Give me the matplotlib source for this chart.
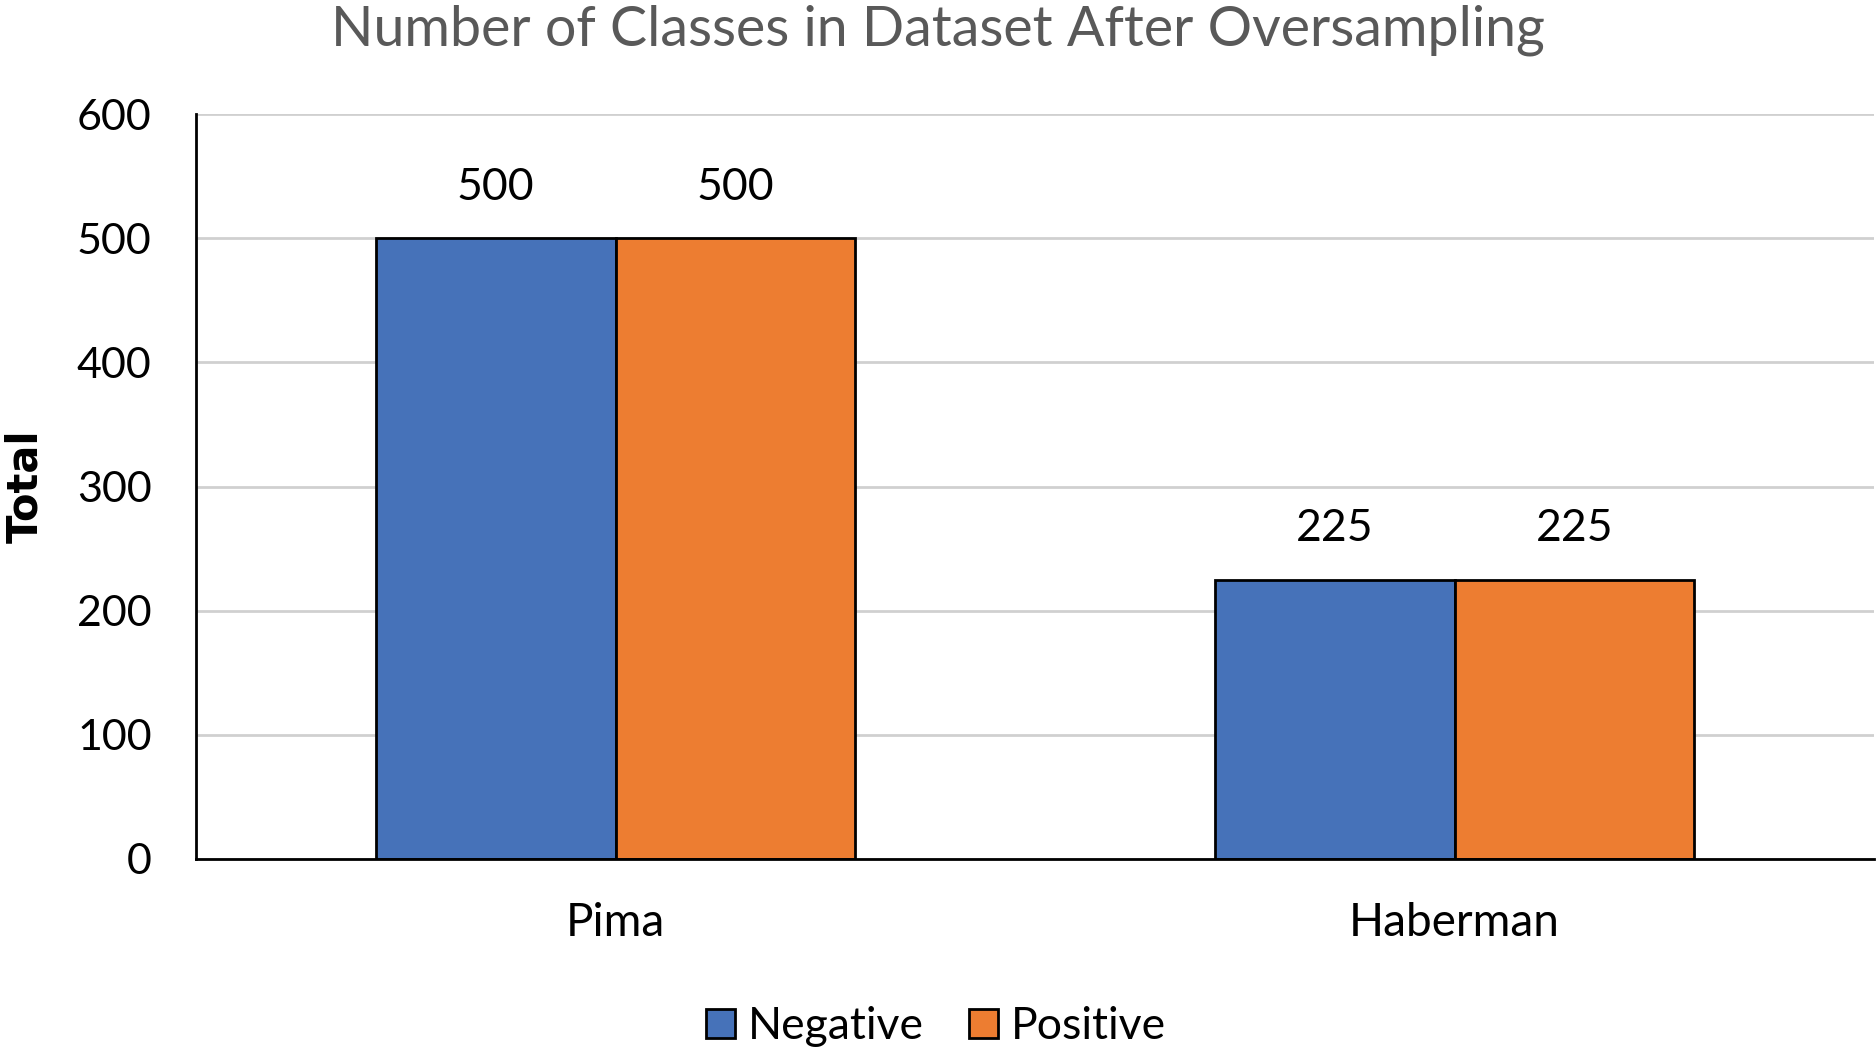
import numpy as np
import matplotlib
matplotlib.use('Agg')
import matplotlib.pyplot as plt

datasets = ['Pima', 'Haberman']
negative = [500, 225]
positive = [500, 225]
series_names = ['Negative', 'Positive']
colors = ['#4672B9', '#ED7D31']
yticks = [0, 100, 200, 300, 400, 500, 600]

plt.rcParams['font.family'] = ['Lato', 'DejaVu Sans']

fig = plt.figure(figsize=(18.76, 10.51), dpi=100)
ax = fig.add_axes([0.1045, 0.1827, 0.8945, 0.7088])

x = np.arange(len(datasets))
w = 2 / 7
for i, (vals, name, c) in enumerate([(negative, series_names[0], colors[0]),
                                     (positive, series_names[1], colors[1])]):
    pos = x + (i - 0.5) * w
    ax.bar(pos, vals, width=w, color=c, edgecolor='black', linewidth=2,
           label=name, zorder=3)
    for p, v in zip(pos, vals):
        ax.annotate(str(v), (p, v), xytext=(0, 22), textcoords='offset points',
                    ha='center', va='bottom', fontsize=32, color='black')

ax.set_xlim(-0.5, 1.5)
ax.set_ylim(0, 600)
ax.set_yticks(yticks)
ax.set_xticks(x)
ax.set_xticklabels(datasets, fontsize=33)
ax.tick_params(axis='y', length=0, pad=32, labelsize=31)
ax.tick_params(axis='x', length=0, pad=31)
ax.grid(axis='y', color='#d0d0d0', linewidth=2, zorder=0)
for s in ['top', 'right']:
    ax.spines[s].set_visible(False)
ax.spines['left'].set_linewidth(2)
ax.spines['bottom'].set_linewidth(2)
ax.spines['bottom'].set_zorder(4)

ax.set_ylabel('Total', fontsize=30, fontweight='bold', family=['DejaVu Sans'])
ax.yaxis.set_label_coords(-0.089, 0.5)

fig.text(0.5, 0.971, 'Number of Classes in Dataset After Oversampling',
         ha='center', va='center', fontsize=40, color='#595959')

ax.legend(loc='center', bbox_to_anchor=(0.441, -0.225), ncol=2, frameon=False,
          fontsize=32, handlelength=0.65, handleheight=0.65, handletextpad=0.3,
          columnspacing=1.0)

fig.savefig('out.png', dpi=100)
